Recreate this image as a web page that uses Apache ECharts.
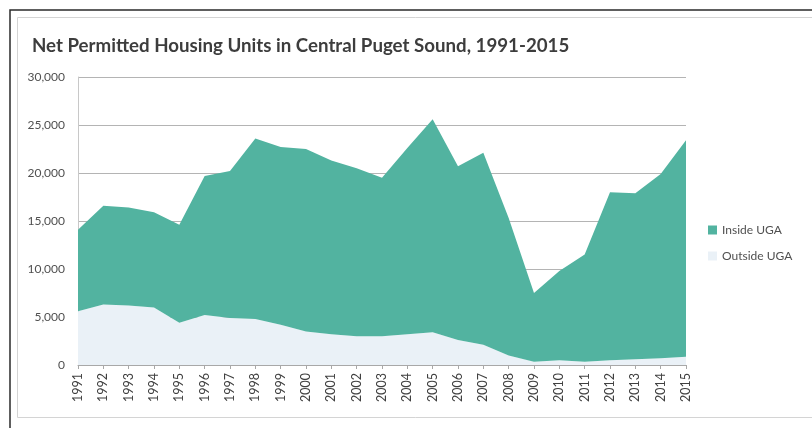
<!DOCTYPE html>
<html>
<head>
<meta charset="utf-8">
<script src="https://cdn.jsdelivr.net/npm/echarts@6/dist/echarts.min.js"></script>
<style>
  html, body { margin: 0; padding: 0; background: #ffffff; }
  #chart { width: 812px; height: 428px; }
</style>
</head>
<body>
<div id="chart"></div>
<script>
// Permit years
const years = ['1991','1992','1993','1994','1995','1996','1997','1998','1999','2000',
  '2001','2002','2003','2004','2005','2006','2007','2008','2009','2010',
  '2011','2012','2013','2014','2015'];

// Net permitted units outside the urban growth area
const outsideUGA = [5600, 6300, 6200, 6000, 4400, 5200, 4900, 4800, 4200, 3500,
  3200, 3000, 3000, 3200, 3400, 2600, 2100, 1000, 350, 500,
  350, 500, 600, 700, 850];

// Net permitted units inside the urban growth area
const insideUGA = [8500, 10300, 10200, 9900, 10200, 14500, 15300, 18800, 18500, 19000,
  18100, 17500, 16500, 19400, 22200, 18100, 20000, 14300, 7150, 9300,
  11150, 17500, 17300, 19200, 22550];

// Value axis ticks
const yTicks = [0, 5000, 10000, 15000, 20000, 25000, 30000];

const chart = echarts.init(document.getElementById('chart'), null, { renderer: 'canvas' });

const fmt = v => v.toLocaleString('en-US');

chart.setOption({
  animation: false,
  backgroundColor: '#ffffff',
  textStyle: { fontFamily: 'Lato, "Open Sans", sans-serif' },
  title: {
    text: 'Net Permitted Housing Units in Central Puget Sound, 1991-2015',
    left: 27,
    top: 31,
    textStyle: { fontFamily: 'Lato', fontWeight: 'bold', fontSize: 18.7, color: '#3d3d3d' }
  },
  legend: {
    orient: 'vertical',
    left: 703,
    top: 219,
    itemWidth: 9,
    itemHeight: 9,
    itemGap: 14,
    icon: 'rect',
    textStyle: { fontSize: 12, color: '#505050', fontFamily: 'Lato' },
    data: ['Inside UGA', 'Outside UGA']
  },
  grid: { left: 78, right: 126, top: 77, bottom: 63, containLabel: false },
  xAxis: {
    type: 'category',
    data: years,
    boundaryGap: false,
    axisLine: { lineStyle: { color: '#a8a8a8', width: 1 } },
    axisTick: { show: true, alignWithLabel: true, length: 4, lineStyle: { color: '#a8a8a8' } },
    axisLabel: { rotate: 90, fontSize: 12.5, color: '#404040', margin: 8, interval: 0, fontFamily: 'Lato' },
    splitLine: { show: false }
  },
  yAxis: {
    type: 'value',
    min: yTicks[0],
    max: yTicks[yTicks.length - 1],
    interval: yTicks[1] - yTicks[0],
    axisLine: { show: true, lineStyle: { color: '#c8c8c8' } },
    axisTick: { show: false },
    axisLabel: { fontSize: 12, color: '#505050', margin: 13, formatter: fmt, fontFamily: 'Lato' },
    splitLine: { lineStyle: { color: '#b4b4b4', width: 1 } }
  },
  series: [
    {
      name: 'Outside UGA',
      type: 'line',
      stack: 'units',
      data: outsideUGA,
      symbol: 'none',
      lineStyle: { width: 0 },
      itemStyle: { color: '#eaf1f7' },
      areaStyle: { color: '#eaf1f7', opacity: 1 }
    },
    {
      name: 'Inside UGA',
      type: 'line',
      stack: 'units',
      data: insideUGA,
      symbol: 'none',
      lineStyle: { width: 0 },
      itemStyle: { color: '#52b3a0' },
      areaStyle: { color: '#52b3a0', opacity: 1 }
    }
  ],
  graphic: [
    {
      type: 'polyline',
      shape: { points: [[10, 428], [10, 10], [812, 10]] },
      style: { stroke: '#2a2a2a', lineWidth: 1.5, fill: null },
      silent: true
    },
    {
      type: 'rect',
      shape: { x: 17.5, y: 17.5, width: 800, height: 400 },
      style: { stroke: '#d4d4d4', lineWidth: 1, fill: null },
      silent: true
    }
  ]
});
</script>
</body>
</html>
